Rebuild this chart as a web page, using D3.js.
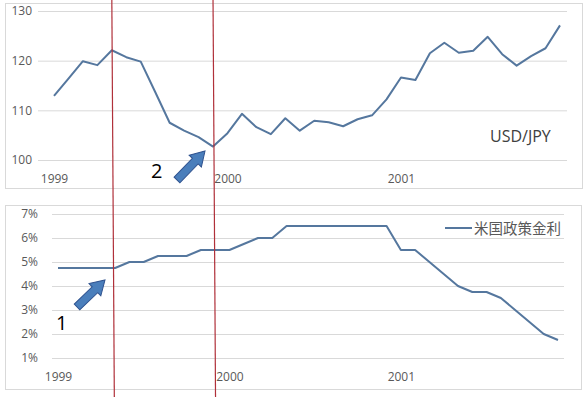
<!DOCTYPE html>
<html>
<head>
<meta charset="utf-8">
<script src="https://cdn.jsdelivr.net/npm/d3@7"></script>
<style>
	body { margin: 0; background: #fff; }
	svg { display: block; }
	text { font-family: "Open Sans", "Noto Sans", sans-serif; }
</style>
</head>
<body>
<svg id="chart" width="585" height="397" viewBox="0 0 585 397"></svg>
<script>

// monthly, Jan 1999 .. Dec 2001
const months = d3.range(36);
const year_labels = ["1999", "2000", "2001"];
const year_ticks = [0, 12, 24];

const usdjpy = [112.9, 116.4, 119.9, 119.1, 122.1, 120.7, 119.8, 113.7, 107.5, 105.9, 104.6, 102.7,
	105.4, 109.3, 106.6, 105.2, 108.4, 105.9, 107.9, 107.6, 106.8, 108.2, 109.0, 112.2,
	116.6, 116.1, 121.5, 123.6, 121.6, 122.0, 124.8, 121.3, 119.0, 120.9, 122.5, 127.1];

const fed_rate = [4.75, 4.75, 4.75, 4.75, 4.75, 5.0, 5.0, 5.25, 5.25, 5.25, 5.5, 5.5,
	5.5, 5.75, 6.0, 6.0, 6.5, 6.5, 6.5, 6.5, 6.5, 6.5, 6.5, 6.5,
	5.5, 5.5, 5.0, 4.5, 4.0, 3.75, 3.75, 3.5, 3.0, 2.5, 2.0, 1.75];

const usdjpy_ticks = [100, 110, 120, 130];
const fed_ticks = [1, 2, 3, 4, 5, 6, 7];

const LINE = "#55779e";
const GRID = "#d9d9d9";
const LABEL = "#595959";

const svg = d3.select("#chart");

function panelBox(x, y, w, h) {
	svg.append("rect")
		.attr("x", x + 0.5).attr("y", y + 0.5)
		.attr("width", w).attr("height", h)
		.attr("fill", "#fff")
		.attr("stroke", GRID);
}

function drawPanel(opts) {
	const g = svg.append("g");

	// gridlines + y labels
	const yAxis = d3.axisLeft(opts.y)
		.tickValues(opts.ticks)
		.tickSize(-(opts.gridRight - opts.gridLeft))
		.tickPadding(opts.pad)
		.tickFormat(opts.fmt);
	g.append("g")
		.attr("transform", `translate(${opts.gridLeft},0)`)
		.call(yAxis)
		.call(a => a.select(".domain").remove())
		.call(a => a.selectAll("line").attr("stroke", GRID))
		.call(a => a.selectAll("text")
			.attr("fill", LABEL)
			.style("font-size", "12px"));

	// x labels (category axis, one per year)
	const xAxis = d3.axisBottom(opts.x)
		.tickValues(year_ticks)
		.tickSize(0)
		.tickPadding(opts.xPad)
		.tickFormat((d, i) => year_labels[i]);
	g.append("g")
		.attr("transform", `translate(0,${opts.y.range()[0]})`)
		.call(xAxis)
		.call(a => a.select(".domain").remove())
		.call(a => a.selectAll("text")
			.attr("fill", LABEL)
			.style("font-size", "12px"));

	const line = d3.line()
		.x((d, i) => opts.x(i))
		.y(d => opts.y(d));

	g.append("path")
		.datum(opts.values)
		.attr("d", line)
		.attr("fill", "none")
		.attr("stroke", LINE)
		.attr("stroke-width", 2)
		.attr("stroke-linejoin", "round");

	return g;
}

// ---- top panel: USD/JPY
panelBox(5, 3, 577, 185);
const xTop = d3.scaleLinear().domain([0, 35]).range([54, 560]);
const yTop = d3.scaleLinear().domain([100, 130]).range([160, 11]);
const topPanel = drawPanel({
	x: xTop, y: yTop, values: usdjpy, ticks: usdjpy_ticks,
	gridLeft: 38, gridRight: 567, pad: 6, xPad: 14,
	fmt: d3.format("d")
});
topPanel.append("text")
	.attr("x", 490).attr("y", 142)
	.attr("fill", "#404040")
	.style("font-size", "16px")
	.text("USD/JPY");

// ---- bottom panel: US policy rate
panelBox(5, 205, 576, 184);
const xBot = d3.scaleLinear().domain([0, 35]).range([58, 558]);
const yBot = d3.scaleLinear().domain([1, 7]).range([358, 214]);
const botPanel = drawPanel({
	x: xBot, y: yBot, values: fed_rate, ticks: fed_ticks,
	gridLeft: 52, gridRight: 564, pad: 14, xPad: 14,
	fmt: d => d + "%"
});
const legend = botPanel.append("g").attr("transform", "translate(445,228)");
legend.append("line")
	.attr("x1", 0).attr("x2", 27)
	.attr("stroke", LINE).attr("stroke-width", 2);
legend.append("text")
	.attr("x", 29).attr("y", 5.5)
	.attr("fill", LABEL)
	.style("font-family", "'Noto Sans CJK JP', sans-serif")
	.style("font-size", "14.5px")
	.text("米国政策金利");

// ---- annotations: red vertical markers across both panels
[4, 11].forEach(i => {
	svg.append("line")
		.attr("x1", xTop(i)).attr("y1", 0)
		.attr("x2", xTop(i) + 2.5).attr("y2", 397)
		.attr("stroke", "#b0303a")
		.attr("stroke-width", 1.2);
});

// block arrows
function blockArrow(tail, tip) {
	const dx = tip[0] - tail[0], dy = tip[1] - tail[1];
	const len = Math.hypot(dx, dy);
	const ang = Math.atan2(dy, dx) * 180 / Math.PI;
	const hl = 14, sw = 4, hw = 8.5;
	const pts = [[0, -sw], [len - hl, -sw], [len - hl, -hw], [len, 0],
		[len - hl, hw], [len - hl, sw], [0, sw]];
	svg.append("polygon")
		.attr("points", pts.map(p => p.join(",")).join(" "))
		.attr("transform", `translate(${tail[0]},${tail[1]}) rotate(${ang})`)
		.attr("fill", "#4a7ebb")
		.attr("stroke", "#2f528f")
		.attr("stroke-width", 1);
}
blockArrow([177, 180], [205, 151]);
blockArrow([77, 307], [105, 280]);

svg.append("text")
	.attr("x", 151).attr("y", 178)
	.style("font-size", "20px").attr("fill", "#000")
	.text("2");
svg.append("text")
	.attr("x", 56).attr("y", 330)
	.style("font-size", "20px").attr("fill", "#000")
	.text("1");

</script>
</body>
</html>
